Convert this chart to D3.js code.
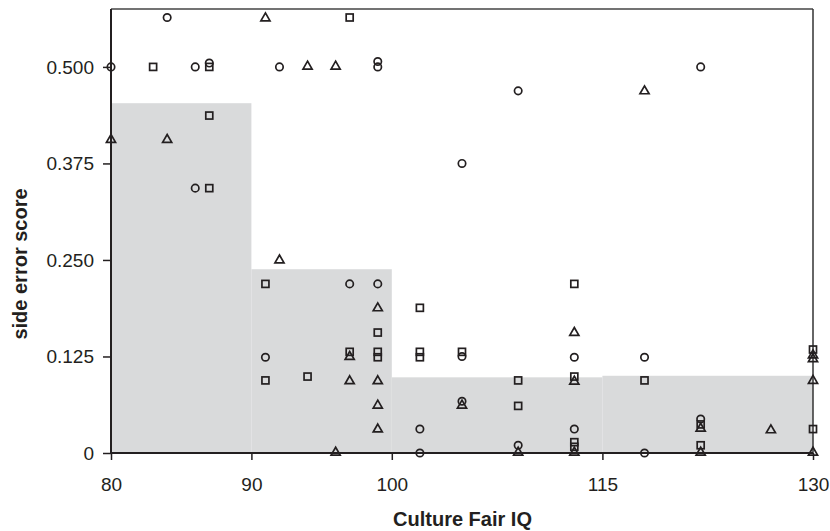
<html>
<head>
    <script src="https://d3js.org/d3.v7.min.js"></script>
    <style>
        body { margin: 0; background: #fff; }
        text { font-family: "Liberation Sans", Arial, sans-serif; fill: #231f20; }
    </style>
</head>
<body>
    <svg id="chart" width="830" height="531"></svg>
    <script>
        // x tick values and y tick values
        var xTicks = [80, 90, 100, 115, 130];
        var yTicks = [0, 0.125, 0.25, 0.375, 0.5];

        // grey steps: IQ band edges and the level of each band
        var stepEdges = [80, 90, 100, 115, 130];
        var stepLevels = [0.453, 0.238, 0.098, 0.1];

        // points as [IQ, score]
        var circles = [
            [84, 0.564], [80, 0.5], [86, 0.5], [87, 0.505], [92, 0.5], [99, 0.5], [99, 0.507],
            [109, 0.469], [105, 0.375], [122, 0.5], [86, 0.343], [91, 0.124], [97, 0.219],
            [99, 0.219], [102, 0.031], [102, 0], [105, 0.125], [105, 0.067], [109, 0.010],
            [113, 0.124], [113, 0.031], [118, 0.124], [118, 0], [122, 0.044]
        ];
        var squares = [
            [83, 0.5], [87, 0.5], [97, 0.564], [87, 0.437], [87, 0.343], [91, 0.219], [91, 0.094],
            [94, 0.099], [97, 0.131], [99, 0.156], [99, 0.131], [99, 0.124], [102, 0.188],
            [102, 0.131], [102, 0.124], [105, 0.131], [109, 0.094], [109, 0.061], [113, 0.219],
            [113, 0.099], [113, 0.014], [113, 0.008], [118, 0.094], [122, 0.037], [122, 0.010],
            [130, 0.134], [130, 0.031]
        ];
        var triangles = [
            [91, 0.5625], [94, 0.5], [96, 0.5], [80, 0.405], [84, 0.405], [118, 0.468], [92, 0.249],
            [97, 0.124], [99, 0.187], [97, 0.0925], [99, 0.0925], [99, 0.061], [99, 0.030], [96, 0],
            [105, 0.061], [109, 0], [113, 0.155], [113, 0.092], [113, 0], [122, 0.031], [122, 0],
            [127, 0.029], [130, 0.126], [130, 0.121], [130, 0.093], [130, 0]
        ];

        var svg = d3.select("#chart"),
            margin = { top: 9, right: 16, bottom: 78, left: 111 },
            width = svg.attr("width") - margin.left - margin.right,
            height = svg.attr("height") - margin.top - margin.bottom;

        var x = d3.scaleLinear().domain([80, 130]).range([0, width - 1]);
        var y = d3.scaleLinear().domain([0, 0.575]).range([height, 0]);

        var g = svg.append("g")
            .attr("transform", "translate(" + margin.left + "," + margin.top + ")");

        // grey step bands
        g.selectAll(".band")
            .data(stepLevels)
            .enter().append("rect")
            .attr("class", "band")
            .attr("x", function (d, i) { return x(stepEdges[i]); })
            .attr("width", function (d, i) { return x(stepEdges[i + 1]) - x(stepEdges[i]); })
            .attr("y", function (d) { return y(d); })
            .attr("height", function (d) { return height - y(d); })
            .attr("fill", "#d9dadb");

        // frame top and right
        g.append("line")
            .attr("x1", 0).attr("x2", x(130)).attr("y1", 0).attr("y2", 0)
            .attr("stroke", "#444").attr("stroke-width", 1.6);
        g.append("line")
            .attr("x1", x(130)).attr("x2", x(130)).attr("y1", 0).attr("y2", height)
            .attr("stroke", "#333").attr("stroke-width", 1.5);

        // markers
        var mk = "#231f20";
        g.selectAll(".sq")
            .data(squares)
            .enter().append("rect")
            .attr("class", "sq")
            .attr("x", function (d) { return x(d[0]) - 3.5; })
            .attr("y", function (d) { return y(d[1]) - 3.5; })
            .attr("width", 7).attr("height", 7)
            .attr("fill", "none").attr("stroke", mk).attr("stroke-width", 1.7);

        var tri = d3.symbol().type(d3.symbolTriangle).size(36);
        g.selectAll(".tri")
            .data(triangles)
            .enter().append("path")
            .attr("class", "tri")
            .attr("d", tri)
            .attr("transform", function (d) { return "translate(" + x(d[0]) + "," + (y(d[1]) - 0.5) + ")"; })
            .attr("fill", "none").attr("stroke", mk).attr("stroke-width", 1.7);

        g.selectAll(".dot")
            .data(circles)
            .enter().append("circle")
            .attr("class", "dot")
            .attr("cx", function (d) { return x(d[0]); })
            .attr("cy", function (d) { return y(d[1]); })
            .attr("r", 3.7)
            .attr("fill", "none").attr("stroke", mk).attr("stroke-width", 1.7);

        // axes
        var xAxis = g.append("g")
            .attr("class", "x axis")
            .attr("transform", "translate(0," + height + ")")
            .call(d3.axisBottom(x).tickValues(xTicks).tickSize(7).tickPadding(18));
        var yAxis = g.append("g")
            .attr("class", "y axis")
            .call(d3.axisLeft(y).tickValues(yTicks).tickSize(8).tickPadding(9)
                .tickFormat(function (d) { return d === 0 ? "0" : d3.format(".3f")(d); }));

        [xAxis, yAxis].forEach(function (a) {
            a.select(".domain").attr("stroke", "#231f20").attr("stroke-width", 2);
            a.selectAll(".tick line").attr("stroke", "#231f20").attr("stroke-width", 1.5);
            a.selectAll(".tick text").style("font-size", "19px").attr("fill", "#231f20");
        });
        yAxis.select(".domain").attr("d", "M0," + height + "V0");
        xAxis.select(".domain").attr("d", "M0,0H" + x(130));

        // axis titles
        svg.append("text")
            .attr("transform", "translate(" + (margin.left + width / 2) + "," + 526 + ")")
            .style("text-anchor", "middle")
            .style("font-size", "20px")
            .style("font-weight", "bold")
            .text("Culture Fair IQ");

        svg.append("text")
            .attr("transform", "translate(27," + 264 + ") rotate(-90)")
            .style("text-anchor", "middle")
            .style("font-size", "20px")
            .style("font-weight", "bold")
            .text("side error score");
    </script>
</body>
</html>
